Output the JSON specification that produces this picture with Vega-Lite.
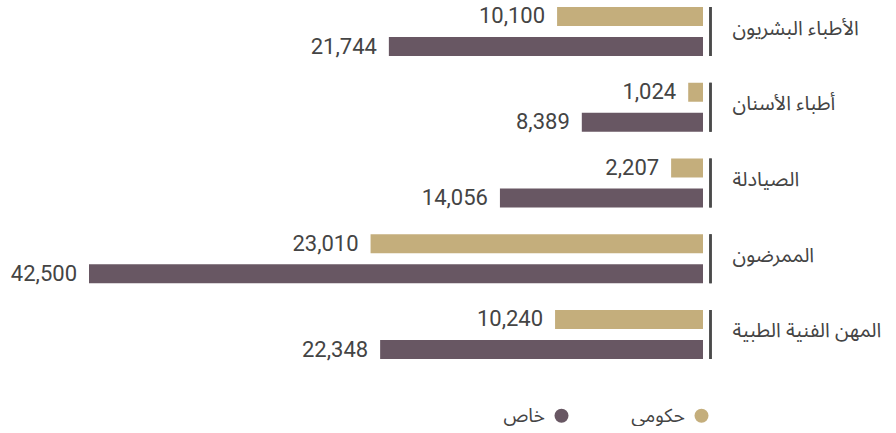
{
  "$schema": "https://vega.github.io/schema/vega-lite/v6.json",
  "padding": {"left": 10, "top": 5, "right": 0, "bottom": 0},
  "background": "#ffffff",
  "width": 614,
  "height": 352,
  "config": {
    "view": {"stroke": null}
  },
  "data": {
    "values": [
      {"category": "الأطباء البشريون", "sector": "حكومي", "value": 10100},
      {"category": "الأطباء البشريون", "sector": "خاص", "value": 21744},
      {"category": "أطباء الأسنان", "sector": "حكومي", "value": 1024},
      {"category": "أطباء الأسنان", "sector": "خاص", "value": 8389},
      {"category": "الصيادلة", "sector": "حكومي", "value": 2207},
      {"category": "الصيادلة", "sector": "خاص", "value": 14056},
      {"category": "الممرضون", "sector": "حكومي", "value": 23010},
      {"category": "الممرضون", "sector": "خاص", "value": 42500},
      {"category": "المهن الفنية الطبية", "sector": "حكومي", "value": 10240},
      {"category": "المهن الفنية الطبية", "sector": "خاص", "value": 22348}
    ]
  },
  "encoding": {
    "x": {
      "field": "value",
      "type": "quantitative",
      "scale": {"domain": [0, 42500], "reverse": true, "nice": false, "zero": true},
      "axis": null
    },
    "y": {
      "field": "category",
      "type": "nominal",
      "sort": ["الأطباء البشريون", "أطباء الأسنان", "الصيادلة", "الممرضون", "المهن الفنية الطبية"],
      "scale": {"paddingInner": 0.353, "paddingOuter": 0},
      "axis": {
        "orient": "right",
        "title": null,
        "ticks": false,
        "domain": false,
        "grid": false,
        "labelAlign": "left",
        "labelBaseline": "middle",
        "labelPadding": 29,
        "labelOffset": -3,
        "labelFont": "Noto Sans Arabic, DejaVu Sans",
        "labelFontSize": 20,
        "labelColor": "#444444",
        "labelLimit": 300
      }
    }
  },
  "layer": [
    {
      "mark": {"type": "bar"},
      "encoding": {
        "yOffset": {
          "field": "sector",
          "type": "nominal",
          "sort": ["حكومي", "خاص"],
          "scale": {"paddingInner": 0.367, "paddingOuter": 0}
        },
        "color": {
          "field": "sector",
          "type": "nominal",
          "scale": {"domain": ["خاص", "حكومي"], "range": ["#685763", "#C4AE7C"]},
          "legend": {
            "orient": "none",
            "legendX": 463,
            "legendY": 399,
            "direction": "horizontal",
            "title": null,
            "symbolType": "circle",
            "symbolSize": 196,
            "symbolStrokeWidth": 0,
            "labelFont": "Noto Sans Arabic, DejaVu Sans",
            "labelFontSize": 19,
            "labelColor": "#444444",
            "labelAlign": "right",
            "labelOffset": -26,
            "columnPadding": 62
          }
        }
      }
    },
    {
      "mark": {"type": "text", "align": "right", "baseline": "middle", "dx": -12, "font": "Roboto", "fontSize": 22, "color": "#444444"},
      "encoding": {
        "yOffset": {
          "field": "sector",
          "type": "nominal",
          "sort": ["حكومي", "خاص"],
          "scale": {"paddingInner": 0.367, "paddingOuter": 0}
        },
        "text": {"field": "value", "type": "quantitative", "format": ","}
      }
    },
    {
      "mark": {"type": "tick", "orient": "vertical", "size": 49, "thickness": 2.5, "xOffset": 7.5, "color": "#4a4a4a", "opacity": 1},
      "encoding": {
        "x": {"datum": 0}
      }
    }
  ]
}
